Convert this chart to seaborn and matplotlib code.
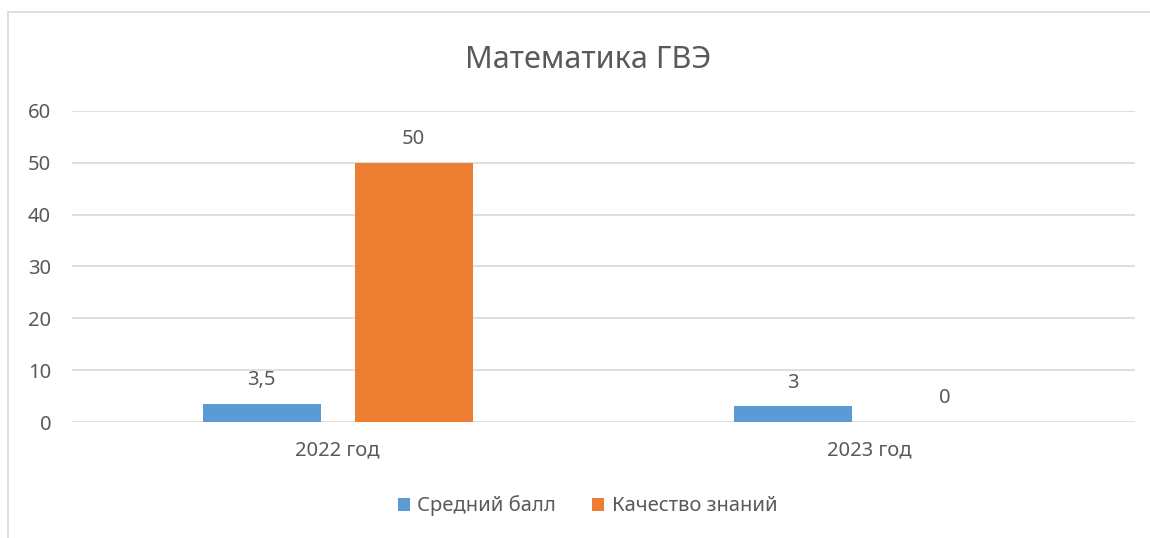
import pandas as pd
import matplotlib.pyplot as plt
import seaborn as sb
from matplotlib.patches import Rectangle

# chart data
years = ['2022 год', '2023 год']
avg_score = [3.5, 3]
quality = [50, 0]
series_names = ['Средний балл', 'Качество знаний']
colors = ['#5B9BD5', '#ED7D31']

df = pd.DataFrame({
    'year': years * 2,
    'value': avg_score + quality,
    'series': [series_names[0]] * len(years) + [series_names[1]] * len(years),
})

sb.set_style('white')
plt.rcParams['font.family'] = ['Noto Sans', 'DejaVu Sans']
text_col = '#595959'
fs = 14.5

fig = plt.figure(figsize=(11.5, 5.38), dpi=100)
ax = fig.add_axes([0.0626, 0.2156, 0.9244, 0.5781])

sb.barplot(data=df, x='year', y='value', hue='series', palette=colors,
           saturation=1, width=0.572, gap=0.224, linewidth=0,
           ax=ax, legend=True)

# data labels with comma decimals
for cont in ax.containers:
    labels = [('%g' % b.get_height()).replace('.', ',') for b in cont]
    ax.bar_label(cont, labels=labels, padding=10, fontsize=fs, color=text_col)

ax.set_ylim(0, 60)
ax.set_yticks(range(0, 61, 10))
ax.set_xlim(-0.5, 1.5)
ax.yaxis.grid(True, color='#D9D9D9', linewidth=1.2)
ax.set_axisbelow(True)
for s in ax.spines.values():
    s.set_visible(False)
ax.tick_params(axis='y', length=0, pad=15, labelsize=fs, labelcolor=text_col)
ax.tick_params(axis='x', length=0, pad=13, labelsize=fs, labelcolor=text_col)
ax.set_xlabel('')
ax.set_ylabel('')

fig.suptitle('Математика ГВЭ', x=0.511, y=1 - 60 / 538, va='center',
             fontsize=22, color=text_col)

ax.legend(loc='center', bbox_to_anchor=(0.511, 1 - 506 / 538),
          bbox_transform=fig.transFigure, ncol=2, frameon=False,
          handlelength=0.6, handleheight=0.6, handletextpad=0.35,
          columnspacing=1.8, fontsize=fs, labelcolor=text_col)

# chart frame (partially cropped in the original)
fig.add_artist(Rectangle((8 / 1150, -0.2), 1.5, 1.2 - 12 / 538,
                         transform=fig.transFigure, fill=False,
                         edgecolor='#D9D9D9', linewidth=1.2))

fig.savefig('out.png', dpi=100)
